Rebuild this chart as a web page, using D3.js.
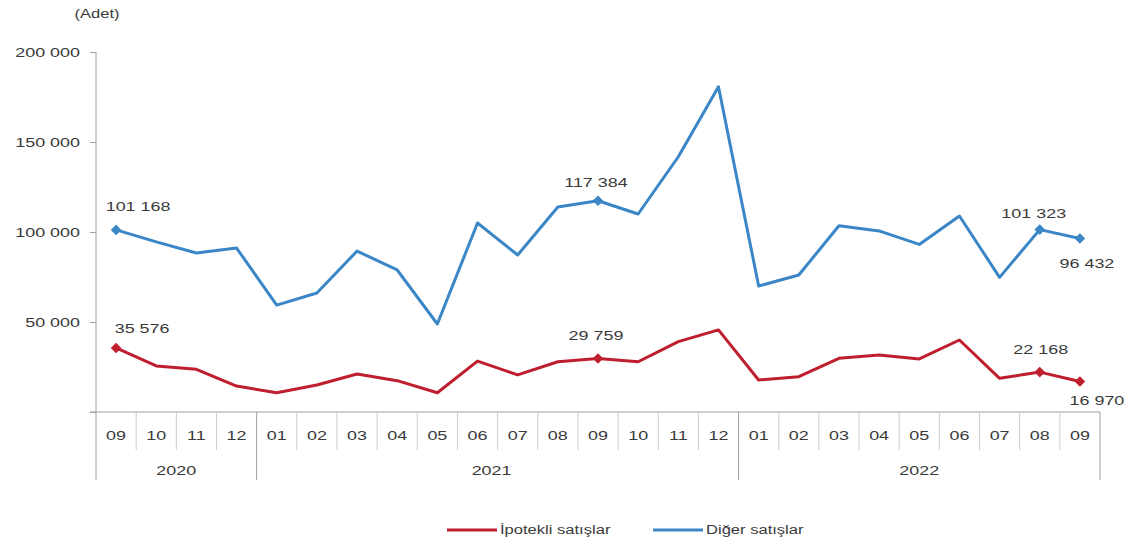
<!DOCTYPE html>
<html lang="tr">
<head>
<meta charset="utf-8">
<script src="https://cdn.jsdelivr.net/npm/d3@7"></script>
<style>
  html, body { margin: 0; padding: 0; background: #fff; }
  svg { display: block; }
  text { font-family: "Liberation Sans", Arial, sans-serif; fill: #3a3a3a; }
</style>
</head>
<body>
<svg id="chart" width="1132" height="547"></svg>
<script>
// Monthly house sales, split by mortgage status (units)
const periods = [
  "2020-09", "2020-10", "2020-11", "2020-12",
  "2021-01", "2021-02", "2021-03", "2021-04", "2021-05", "2021-06",
  "2021-07", "2021-08", "2021-09", "2021-10", "2021-11", "2021-12",
  "2022-01", "2022-02", "2022-03", "2022-04", "2022-05", "2022-06",
  "2022-07", "2022-08", "2022-09"
];
const ipotekli = [
  35576, 25600, 23700, 14400,
  10700, 15000, 21100, 17400, 10700, 28300,
  20600, 27900, 29759, 27900, 39100, 45600,
  17800, 19600, 29800, 31700, 29500, 40000,
  18700, 22168, 16970
];
const diger = [
  101168, 94500, 88300, 91100,
  59400, 66100, 89400, 78900, 48900, 105000,
  87200, 113900, 117384, 110000, 141800, 180700,
  70000, 76100, 103500, 100600, 93100, 108900,
  74800, 101323, 96432
];
const yTicks = [0, 50000, 100000, 150000, 200000];
const seriesNames = ["İpotekli satışlar", "Diğer satışlar"];
const unitLabel = "(Adet)";
// months whose values are printed on the chart
const labelledIdx = [0, 12, 23, 24];

// ---- styling ----
const colors = ["#bf1e2e", "#3a86c6"];
const stretch = "scale(1.38,1)";
// label offsets from the point (baseline, text centred)
const labelOffsets = [
  { 0: [26, -15], 12: [-2, -18], 23: [1, -18], 24: [17, 24] },
  { 0: [22, -19], 12: [-2, -14], 23: [-6, -12], 24: [7, 30] }
];

const svg = d3.select("#chart");
const plot = { left: 96, right: 1100, top: 52, bottom: 412 };

const fmt = d3.formatLocale({ decimal: ",", thousands: " ", grouping: [3], currency: ["", ""] }).format(",d");

const x = d3.scaleBand().domain(periods).range([plot.left, plot.right]);
const cx = p => x(p) + x.bandwidth() / 2;
const y = d3.scaleLinear().domain([0, 200000]).range([plot.bottom, plot.top]);

// y axis
const yAxis = svg.append("g")
  .attr("transform", `translate(${plot.left},0)`)
  .call(d3.axisLeft(y).tickValues(yTicks).tickSize(6)
    .tickFormat(d => d === 0 ? "" : fmt(d)));
yAxis.select(".domain").attr("stroke", "#a0a0a0").attr("d", `M0,${plot.top}V${plot.bottom}`);
yAxis.selectAll(".tick line").attr("stroke", "#a0a0a0");
yAxis.selectAll(".tick text")
  .attr("x", 0).attr("dy", "0.35em")
  .attr("transform", "translate(-16,0) " + stretch)
  .style("font-size", "13px").attr("fill", "#404040");

// x axis: month labels
const xAxis = svg.append("g")
  .attr("transform", `translate(0,${plot.bottom})`)
  .call(d3.axisBottom(x).tickSize(0).tickFormat(d => d.split("-")[1]));
xAxis.select(".domain").attr("stroke", "#a0a0a0")
  .attr("d", `M${plot.left - 6},0H${plot.right}`);
xAxis.selectAll(".tick text")
  .attr("y", 0).attr("dy", 0)
  .attr("transform", "translate(0,28) " + stretch)
  .style("font-size", "13px").attr("fill", "#404040");

// month separators
const bounds = periods.map(p => x(p)).concat([plot.right]);
const yearStart = periods.map((p, i) => i === 0 || p.slice(0, 4) !== periods[i - 1].slice(0, 4));
svg.append("g").selectAll("line")
  .data(bounds)
  .join("line")
  .attr("x1", d => d).attr("x2", d => d)
  .attr("y1", plot.bottom)
  .attr("y2", (d, i) => (i === bounds.length - 1 || yearStart[i]) ? 480 : 450)
  .attr("stroke", (d, i) => (i === bounds.length - 1 || yearStart[i]) ? "#a0a0a0" : "#cccccc")
  .attr("stroke-width", 1);

// year labels
const years = Array.from(d3.group(periods, p => p.slice(0, 4)), ([yr, ps]) => ({ yr, first: ps[0], last: ps[ps.length - 1] }));
svg.append("g").selectAll("text")
  .data(years)
  .join("text")
  .attr("transform", d => `translate(${(x(d.first) + x(d.last) + x.bandwidth()) / 2 - (d.yr === "2021" ? 6 : 0)},475) ${stretch}`)
  .attr("text-anchor", "middle")
  .style("font-size", "13px")
  .attr("fill", "#404040")
  .text(d => d.yr);

// unit label
svg.append("text")
  .attr("transform", `translate(97,18) ${stretch}`)
  .attr("text-anchor", "middle")
  .style("font-size", "12px")
  .attr("fill", "#404040")
  .text(unitLabel);

// series lines
const series = [ipotekli, diger];
const line = d3.line().x((d, i) => cx(periods[i])).y(d => y(d));
series.forEach((vals, s) => {
  svg.append("path")
    .datum(vals)
    .attr("d", line)
    .attr("fill", "none")
    .attr("stroke", colors[s])
    .attr("stroke-width", 3)
    .attr("stroke-linejoin", "round");

  // square diamonds on the labelled months
  svg.append("g").selectAll("path")
    .data(labelledIdx)
    .join("path")
    .attr("d", d3.symbol(d3.symbolSquare, 56))
    .attr("transform", i => `translate(${cx(periods[i])},${y(vals[i])}) rotate(45)`)
    .attr("fill", colors[s]);

  svg.append("g").selectAll("text")
    .data(labelledIdx)
    .join("text")
    .attr("transform", i => `translate(${cx(periods[i]) + labelOffsets[s][i][0]},${y(vals[i]) + labelOffsets[s][i][1]}) ${stretch}`)
    .attr("text-anchor", "middle")
    .style("font-size", "13px")
    .attr("fill", "#2a2a2a")
    .text(i => fmt(vals[i]));
});

// legend
const legendX = [447, 653];
series.forEach((vals, s) => {
  const g = svg.append("g").attr("transform", `translate(${legendX[s]},530)`);
  g.append("line").attr("x1", 0).attr("x2", 50).attr("y1", 0).attr("y2", 0)
    .attr("stroke", colors[s]).attr("stroke-width", 3);
  g.append("text")
    .attr("transform", `translate(53,4) ${stretch}`)
    .style("font-size", "12px")
    .attr("fill", "#404040")
    .text(seriesNames[s]);
});
</script>
</body>
</html>
